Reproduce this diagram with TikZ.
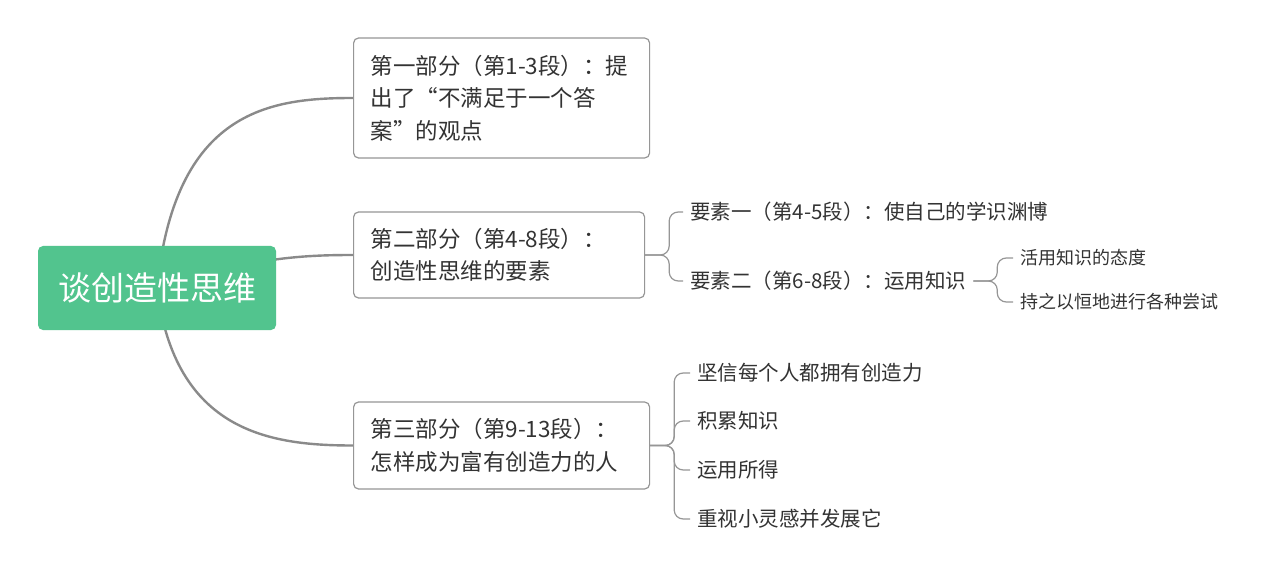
\documentclass[tikz,border=0pt]{standalone}
\usepackage{fontspec}
\setmainfont{Noto Sans CJK SC}
\usetikzlibrary{backgrounds}

\definecolor{mapgreen}{RGB}{82,196,142}
\definecolor{linegray}{RGB}{138,138,138}
\definecolor{boxgray}{RGB}{150,150,150}
\definecolor{txtgray}{RGB}{51,51,51}

\tikzset{
  root/.style={fill=mapgreen, rounded corners=5pt, minimum width=238pt, minimum height=84pt,
    text=white, font=\fontsize{33}{40}\selectfont},
  part/.style={draw=boxgray, line width=1.2pt, rounded corners=5pt, anchor=west, align=left,
    inner xsep=17pt, text=txtgray, font=\fontsize{22.5}{32.5}\selectfont},
  leaf/.style={anchor=west, inner xsep=7pt, inner ysep=2pt, text=txtgray, font=\fontsize{20.5}{24}\selectfont},
  subleaf/.style={leaf, font=\fontsize{18}{22}\selectfont},
  branch/.style={draw=linegray, line width=2.4pt},
  twig/.style={draw=boxgray, line width=1.2pt, rounded corners=9pt}
}

\begin{document}
\begin{tikzpicture}[x=1pt,y=-1pt]
    \useasboundingbox (0,0) rectangle (1263,577);

    \node[root] (topic) at (157,288) {谈创造性思维};

    \node[part, text width=262pt, minimum height=120pt] (p1) at (353,98) {第一部分（第1-3段）：提\\出了“不满足于一个答\\案”的观点};
    \node[part, text width=257pt, minimum height=86pt] (p2) at (353,255) {第二部分（第4-8段）：\\创造性思维的要素};
    \node[part, text width=262pt, minimum height=87pt] (p3) at (353,445.5) {第三部分（第9-13段）：\\怎样成为富有创造力的人};

    \node[leaf] (e1) at (683,212) {要素一（第4-5段）：使自己的学识渊博};
    \node[leaf] (e2) at (683,281) {要素二（第6-8段）：运用知识};
    \node[subleaf] (e21) at (1013,258) {活用知识的态度};
    \node[subleaf] (e22) at (1013,302) {持之以恒地进行各种尝试};

    \node[leaf] (w1) at (690,373) {坚信每个人都拥有创造力};
    \node[leaf] (w2) at (690,421) {积累知识};
    \node[leaf] (w3) at (690,470) {运用所得};
    \node[leaf] (w4) at (690,519) {重视小灵感并发展它};

    \begin{scope}[on background layer]
        \fill[white] (0,0) rectangle (1263,577);
        \draw[branch] (topic.center) .. controls (175,110) and (270,98) .. (p1.west);
        \draw[branch] (topic.center) .. controls (250,258) and (300,255) .. (p2.west);
        \draw[branch] (topic.center) .. controls (175,432) and (270,445.5) .. (p3.west);
    \end{scope}

    \draw[twig] (p2.east) -- ++(24,0) |- (e1.west);
    \draw[twig] (p2.east) -- ++(24,0) |- (e2.west);
    \foreach \s in {e21,e22}
        \draw[twig] (e2.east) -- ++(24,0) |- (\s.west);
    \foreach \w in {w1,w2,w3,w4}
        \draw[twig] (p3.east) -- ++(24,0) |- (\w.west);
\end{tikzpicture}
\end{document}
